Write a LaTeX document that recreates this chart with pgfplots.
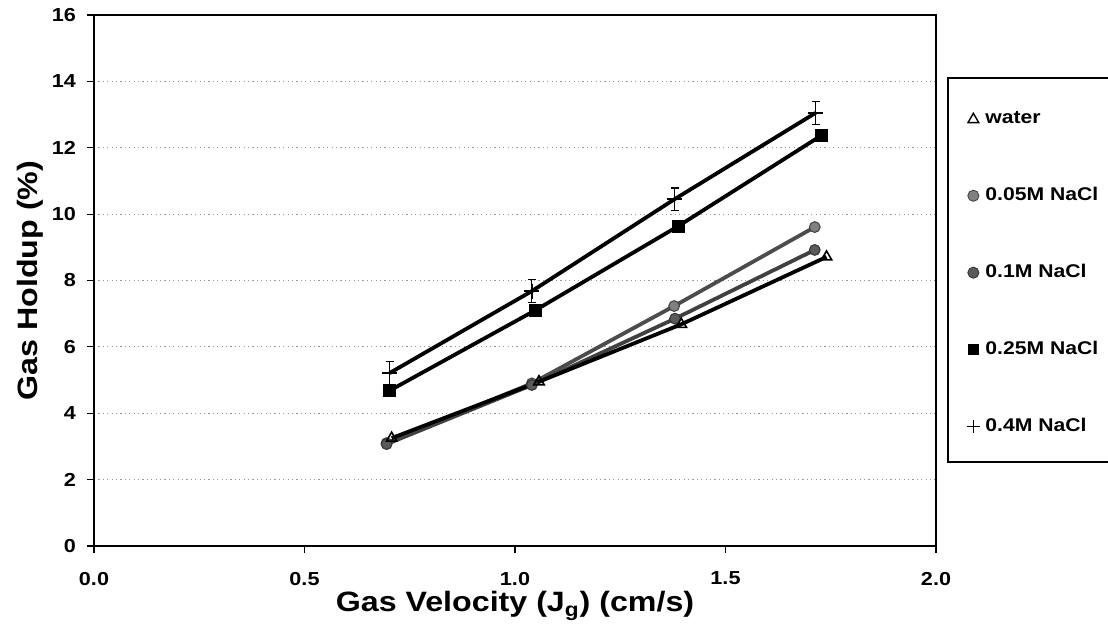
\documentclass[border=0pt]{standalone}
\usepackage{fontspec}
\setmainfont{Liberation Sans}[FakeStretch=1.15]
\usepackage{pgfplots}
\pgfplotsset{compat=1.18}

\begin{document}
\begin{tikzpicture}
\useasboundingbox (-47pt,-47.5pt) rectangle (507pt,273pt);
\begin{axis}[
  at={(0,0)}, anchor=south west,
  scale only axis, width=421pt, height=265.5pt,
  xmin=0, xmax=2, ymin=0, ymax=16,
  xtick={0,0.5,1,1.5,2}, ytick={0,2,4,6,8,10,12,14,16},
  tick label style={font=\fontsize{9.4}{10}\selectfont\bfseries,
    /pgf/number format/assume math mode=true},
  yticklabel style={xshift=-2pt},
  xticklabel style={yshift=-6pt, /pgf/number format/fixed,
    /pgf/number format/fixed zerofill, /pgf/number format/precision=1},
  tick align=outside, xtick pos=bottom, ytick pos=left,
  major tick length=3.5pt,
  major tick style={black, line width=0.6pt},
  axis line style={black, line width=0.75pt},
  ymajorgrids,
  grid style={gray!80, line width=0.5pt, dash pattern=on 0.6pt off 1.6pt},
  every axis x label/.style={at={(rel axis cs:0.5,0)}, yshift=-33pt, anchor=base,
    font=\fontsize{14}{16}\selectfont\bfseries},
  every axis y label/.style={at={(rel axis cs:0,0.5)}, xshift=-32pt, rotate=90, anchor=center,
    font=\fontsize{14}{16}\selectfont\bfseries},
  xlabel={Gas Velocity (J\textsubscript{g}) (cm/s)},
  ylabel={Gas Holdup (\%)},
  clip=false,
  legend image code/.code={%
    \begin{pgfinterruptboundingbox}\draw[#1] plot coordinates {(0pt,0pt)};\end{pgfinterruptboundingbox}
    \pgfpathrectangle{\pgfpoint{-3.5pt}{-3.2pt}}{\pgfpoint{7pt}{6.4pt}}%
    \pgfusepath{use as bounding box}},
  legend cell align=left,
  legend style={at={(rel axis cs:1.0356,0.8181)}, anchor=north west,
    draw=none, fill=none, inner sep=0pt, row sep=30.3pt, column sep=2.5pt,
    font=\fontsize{9.2}{10}\selectfont\bfseries, nodes={inner sep=0pt}},
]
% legend frame
\draw[black, line width=0.75pt] (rel axis cs:1.0143,0.8814) rectangle (rel axis cs:1.4,0.1582);

\addplot[forget plot, black!70, line width=1.9pt, mark=*,
  mark options={fill=black!50, draw=black!75, line width=0.5pt}, mark size=2.7pt]
  coordinates {(0.695,3.10) (1.040,4.90) (1.378,7.23) (1.712,9.61)};
\addplot[forget plot, black!75, line width=1.9pt, mark=*,
  mark options={fill=black!65, draw=black!80, line width=0.5pt}, mark size=2.7pt]
  coordinates {(0.695,3.07) (1.040,4.85) (1.380,6.85) (1.712,8.92)};
\addplot[forget plot, black, line width=1.9pt, mark=triangle,
  mark options={fill=white, line width=0.8pt}, mark size=3pt]
  coordinates {(0.707,3.25) (1.057,4.95) (1.395,6.68) (1.740,8.71)};
\addplot[forget plot, black, line width=1.9pt, mark=square*,
  mark options={fill=black}, mark size=2.3pt]
  coordinates {(0.702,4.68) (1.048,7.10) (1.388,9.64) (1.729,12.38)};
\addplot[forget plot, black, line width=1.9pt, mark=+,
  mark options={line width=0.8pt}, mark size=3.75pt,
  error bars/.cd, y dir=both, y explicit, error mark=-,
  error bar style={black, line width=0.6pt},
  error mark options={rotate=90, black, line width=0.6pt, mark size=2pt}]
  coordinates {(0.702,5.21) +- (0,0.34) (1.040,7.68) +- (0,0.34)
               (1.379,10.45) +- (0,0.34) (1.714,13.05) +- (0,0.35)};

\addlegendimage{only marks, mark=triangle, mark options={fill=white, line width=0.7pt}, mark size=3.1pt}
\addlegendentry{water}
\addlegendimage{only marks, mark=*, mark options={fill=black!50, draw=black!75, line width=0.4pt}, mark size=2.8pt}
\addlegendentry{0.05M NaCl}
\addlegendimage{only marks, mark=*, mark options={fill=black!65, draw=black!80, line width=0.4pt}, mark size=2.8pt}
\addlegendentry{0.1M NaCl}
\addlegendimage{only marks, mark=square*, mark options={fill=black}, mark size=2.6pt}
\addlegendentry{0.25M NaCl}
\addlegendimage{only marks, mark=+, mark options={line width=0.7pt}, mark size=3.4pt}
\addlegendentry{0.4M NaCl}
\end{axis}
\end{tikzpicture}
\end{document}
